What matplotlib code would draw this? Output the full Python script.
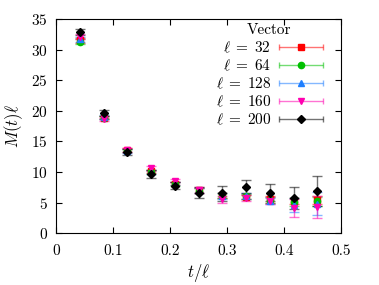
import matplotlib
matplotlib.use("Agg")
import matplotlib.pyplot as plt
from matplotlib.colors import to_rgba
from matplotlib.container import ErrorbarContainer
from matplotlib.collections import LineCollection
from matplotlib.lines import Line2D
from matplotlib.legend_handler import HandlerErrorbar

plt.rcParams['font.family'] = 'serif'
plt.rcParams['font.serif'] = ['cmr10', 'DejaVu Serif']
plt.rcParams['mathtext.fontset'] = 'cm'
plt.rcParams['axes.formatter.use_mathtext'] = True

# t / ell values
t_over_l = [0.0417, 0.0833, 0.125, 0.1667, 0.2083, 0.25, 0.2917, 0.3333, 0.375, 0.4167, 0.4583]

m_32 = [31.5, 18.9, 13.6, 10.1, 8.1, 7.0, 6.2, 5.9, 5.5, 5.2, 5.4]
e_32 = [0.4, 0.3, 0.3, 0.3, 0.3, 0.4, 0.4, 0.4, 0.5, 0.5, 0.6]
m_64 = [31.3, 18.9, 13.5, 10.0, 8.0, 6.9, 6.1, 6.0, 5.4, 5.1, 5.2]
e_64 = [0.4, 0.3, 0.3, 0.3, 0.3, 0.4, 0.4, 0.4, 0.5, 0.6, 0.7]
m_128 = [31.7, 19.0, 13.4, 10.0, 8.1, 6.9, 6.1, 6.0, 5.3, 4.6, 4.8]
e_128 = [0.4, 0.3, 0.3, 0.4, 0.3, 0.4, 0.5, 0.5, 0.5, 1.1, 1.9]
m_160 = [32.1, 18.6, 13.6, 10.6, 8.6, 7.0, 5.5, 5.7, 5.3, 4.1, 4.3]
e_160 = [0.4, 0.3, 0.3, 0.4, 0.3, 0.5, 0.5, 0.5, 0.6, 1.5, 1.8]
m_200 = [32.9, 19.6, 13.3, 9.65, 7.75, 6.6, 6.5, 7.6, 6.6, 5.8, 6.9]
e_200 = [0.5, 0.5, 0.5, 0.6, 0.6, 0.9, 1.2, 1.1, 1.4, 1.8, 2.5]

series = [
    (r'$\ell\;=\;32$', m_32, e_32, '#ff0000', 's'),
    (r'$\ell\;=\;64$', m_64, e_64, '#00c000', 'o'),
    (r'$\ell\;=\;128$', m_128, e_128, '#1f7fff', '^'),
    (r'$\ell\;=\;160$', m_160, e_160, '#ff00b0', 'v'),
    (r'$\ell\;=\;200$', m_200, e_200, '#000000', 'D'),
]

fig = plt.figure(figsize=(3.79, 2.85), dpi=100)
ax = fig.add_axes([0.148, 0.182, 0.752, 0.751])

handles = []
for lab, m, e, c, mk in series:
    ms = 4 if mk == 'D' else 4.5
    ec = to_rgba(c, 0.55)
    ax.errorbar(t_over_l, m, yerr=e, fmt=mk, color=c, ms=ms,
                ecolor=ec, elinewidth=1.0, capsize=3.6, capthick=1.0)
    # legend proxy: horizontal bar with caps, marker in the middle
    mline = Line2D([], [], ls='none', marker=mk, color=c, ms=ms)
    cap = Line2D([], [], ls='none', marker='|', color=ec, ms=5, mew=1.0)
    bar = LineCollection([], colors=[ec], linewidths=1.0)
    handles.append(ErrorbarContainer((mline, (cap, cap), (bar,)),
                                     has_xerr=True, has_yerr=False, label=lab))

ax.set_xlim(0, 0.5)
ax.set_ylim(0, 35)
ax.set_xticks([0, 0.1, 0.2, 0.3, 0.4, 0.5])
ax.set_xticklabels(['0', '0.1', '0.2', '0.3', '0.4', '0.5'])
ax.set_yticks([0, 5, 10, 15, 20, 25, 30, 35])
ax.tick_params(direction='in', top=True, right=True, length=4, labelsize=11)
ax.tick_params(axis='x', pad=8)
ax.tick_params(axis='y', pad=6)
ax.set_xlabel(r'$t/\ell$', fontsize=12, labelpad=3)
ax.set_ylabel(r'$M(t)\ell$', fontsize=12, labelpad=4)

leg = ax.legend(handles=handles, labels=[s[0] for s in series], title='Vector',
                loc='upper right', bbox_to_anchor=(0.852, 0.917),
                bbox_transform=fig.transFigure, frameon=False, markerfirst=False,
                fontsize=11, title_fontsize=11, handlelength=2.9, labelspacing=0.17,
                borderaxespad=0, borderpad=0, handletextpad=0.5,
                handler_map={ErrorbarContainer: HandlerErrorbar(xerr_size=1.44)})

fig.savefig('out.png', dpi=100)
